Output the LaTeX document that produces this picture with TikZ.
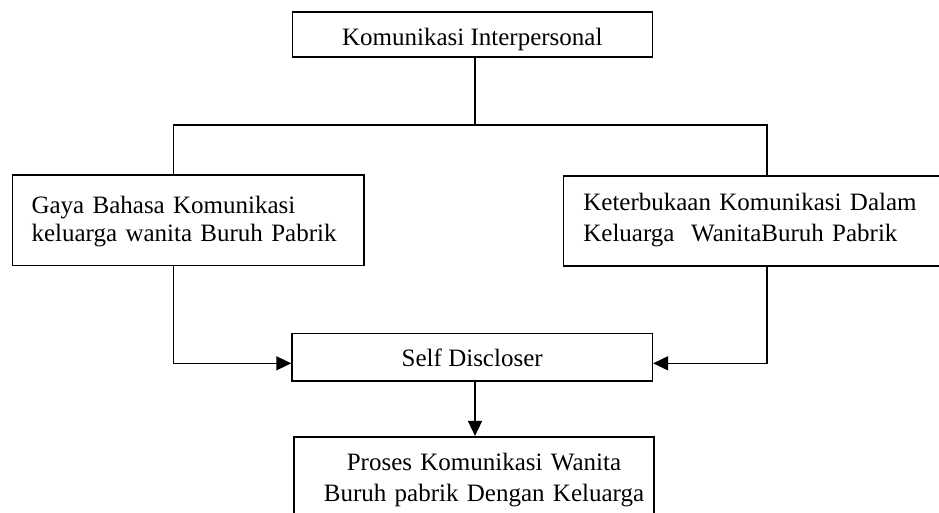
\documentclass[tikz,border=0pt]{standalone}
\usepackage{fontspec}
\setmainfont{Liberation Serif}
\usetikzlibrary{arrows.meta}
\begin{document}
\begin{tikzpicture}[x=1pt,y=-1pt,
  box/.style={draw,line width=1.6pt,inner sep=0pt,rectangle,font=\fontsize{25}{30}\selectfont},
  conn/.style={line width=1.6pt},
  arr/.style={line width=1.6pt,-{Triangle[length=15pt,width=14pt]}}]
\useasboundingbox (0,0) rectangle (939,512);
\clip (0,0) rectangle (939,512);
\fill[white] (0,0) rectangle (939,512);
\node[box,minimum width=360pt,minimum height=45pt,text height=21.6pt,text depth=0pt] (top) at (472.3,34.2) {Komunikasi Interpersonal};
\node[box,minimum width=351.7pt,minimum height=90.7pt,text width=313.3pt,align=left,
  text height=0pt,text depth=14pt,font=\fontsize{25}{28.4}\selectfont] (gaya) at (188.2,220.3)
  {Gaya Bahasa Komunikasi\\keluarga wanita Buruh Pabrik};
\node[box,minimum width=386.7pt,minimum height=90pt,text width=346.7pt,align=left,
  text height=0pt,text depth=21.4pt,font=\fontsize{25}{31.7}\selectfont] (ket) at (756.7,220.7)
  {Keterbukaan Komunikasi Dalam\\Keluarga\ \ WanitaBuruh Pabrik};
\node[box,minimum width=360.3pt,minimum height=47.4pt,text height=19.4pt,text depth=0pt] (self) at (472.2,357) {Self Discloser};
\node[box,minimum width=360pt,minimum height=90pt,text width=360pt,align=center,
  text height=0pt,text depth=23.4pt,font=\fontsize{25}{31.7}\selectfont] (proses) at (474,481.7)
  {\hspace*{20pt}Proses Komunikasi Wanita\\\hspace*{20pt}Buruh pabrik Dengan Keluarga};
\coordinate (split) at (475,125);
\coordinate (lbr) at (173.3,125);
\coordinate (rbr) at (766.7,125);
\coordinate (lin) at (173.3,363.3);
\coordinate (rin) at (766.7,363.3);
\draw[conn] (top.south -| split) -- (split);
\draw[conn] (gaya.north -| lbr) -- (lbr) -- (rbr) -- (ket.north -| rbr);
\draw[arr] (gaya.south -| lin) -- (lin) -- (lin -| self.west);
\draw[arr] (ket.south -| rin) -- (rin) -- (rin -| self.east);
\draw[arr] (self.south -| split) -- (proses.north -| split);
\end{tikzpicture}
\end{document}
